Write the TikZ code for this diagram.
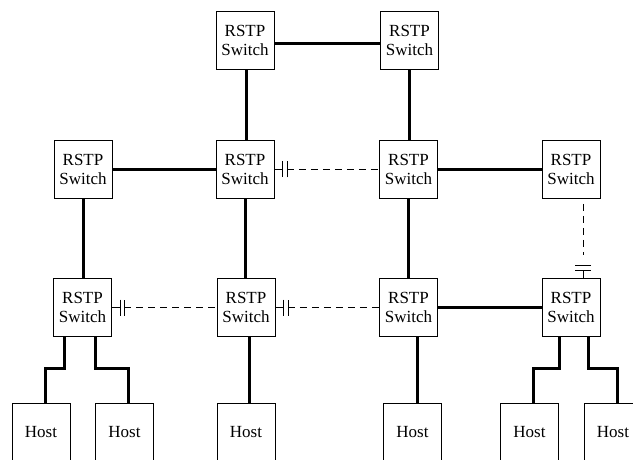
\documentclass[tikz,border=0pt]{standalone}
\usepackage{fontspec}
\setmainfont{Liberation Serif}

\tikzset{
  switchbox/.style={draw, line width=0.8pt, minimum width=58pt, minimum height=58pt,
    inner sep=0pt, align=center, font=\fontsize{17}{19}\selectfont},
  hostbox/.style={draw, line width=0.8pt, minimum width=58pt, minimum height=58pt,
    inner sep=0pt, font=\fontsize{17}{19}\selectfont},
  link/.style={line width=3pt},
  backup/.style={line width=0.8pt, dash pattern=on 7pt off 5pt},
  blocked/.style={line width=0.8pt}
}

\begin{document}
\begin{tikzpicture}[x=1pt, y=-1pt]
    \useasboundingbox (0, 0) rectangle (633, 460);
    \clip (0, 0) rectangle (633, 460);

    \node[switchbox] (T1) at (245, 40) {RSTP\\Switch};
    \node[switchbox] (T2) at (409.5, 40) {RSTP\\Switch};

    \node[switchbox] (M1) at (83, 169.5) {RSTP\\Switch};
    \node[switchbox] (M2) at (245, 169.5) {RSTP\\Switch};
    \node[switchbox] (M3) at (408.5, 169.5) {RSTP\\Switch};
    \node[switchbox] (M4) at (571, 169.5) {RSTP\\Switch};

    \node[switchbox] (B1) at (82.5, 307.5) {RSTP\\Switch};
    \node[switchbox] (B2) at (246, 307.5) {RSTP\\Switch};
    \node[switchbox] (B3) at (408.5, 307.5) {RSTP\\Switch};
    \node[switchbox] (B4) at (571, 307.5) {RSTP\\Switch};

    \node[hostbox] (H1) at (41, 432) {Host};
    \node[hostbox] (H2) at (124.5, 432) {Host};
    \node[hostbox] (H3) at (246, 432) {Host};
    \node[hostbox] (H4) at (412.5, 432) {Host};
    \node[hostbox] (H5) at (529.5, 432) {Host};
    \node[hostbox] (H6) at (613, 432) {Host};

    % active links
    \draw[link] ([yshift=-4pt]T1.east) -- ([yshift=-4pt]T2.west);
    \draw[link] ([xshift=1pt]T1.south) -- ([xshift=1pt]M2.north);
    \draw[link] (T2.south) -- (T2.south |- M3.north);
    \draw[link] (M1.east) -- (M2.west);
    \draw[link] (M3.east) -- (M4.west);
    \draw[link] (M1.south) -- (M1.south |- B1.north);
    \draw[link] (M2.south) -- (M2.south |- B2.north);
    \draw[link] (M3.south) -- (B3.north);
    \draw[link] (B3.east) -- (B4.west);

    % blocked ports
    \draw[blocked] (M2.east) -- ++(8, 0) ++(0, -8) -- ++(0, 16) ++(4.5, 0) -- ++(0, -16);
    \draw[backup] ([xshift=12.5pt]M2.east) -- (M3.west);
    \draw[blocked] (B1.east) -- ++(8, 0) ++(0, -8) -- ++(0, 16) ++(4.5, 0) -- ++(0, -16);
    \draw[backup] ([xshift=12.5pt]B1.east) -- (B2.west);
    \draw[blocked] (B2.east) -- ++(8, 0) ++(0, -8) -- ++(0, 16) ++(4.5, 0) -- ++(0, -16);
    \draw[backup] ([xshift=12.5pt]B2.east) -- (B3.west);
    \draw[blocked] ([xshift=12pt]B4.north) -- ++(0, -8) ++(-8, 0) -- ++(16, 0) ++(0, -4.5) -- ++(-16, 0);
    \draw[backup] ([xshift=12pt, yshift=-5pt]M4.south) -- ([xshift=12pt, yshift=23pt]B4.north);

    % hosts
    \draw[link] ([xshift=-18pt]B1.south) -- ++(0, 32) -| ([xshift=4pt]H1.north);
    \draw[link] ([xshift=13pt]B1.south) -- ++(0, 32) -| ([xshift=3.5pt]H2.north);
    \draw[link] ([xshift=3pt]B2.south) -- ([xshift=3pt]H3.north);
    \draw[link] ([xshift=8.5pt]B3.south) -- ([xshift=4.5pt]H4.north);
    \draw[link] ([xshift=-12pt]B4.south) -- ++(0, 32) -| ([xshift=3.5pt]H5.north);
    \draw[link] ([xshift=17pt]B4.south) -- ++(0, 32) -| ([xshift=4pt]H6.north);
\end{tikzpicture}
\end{document}
